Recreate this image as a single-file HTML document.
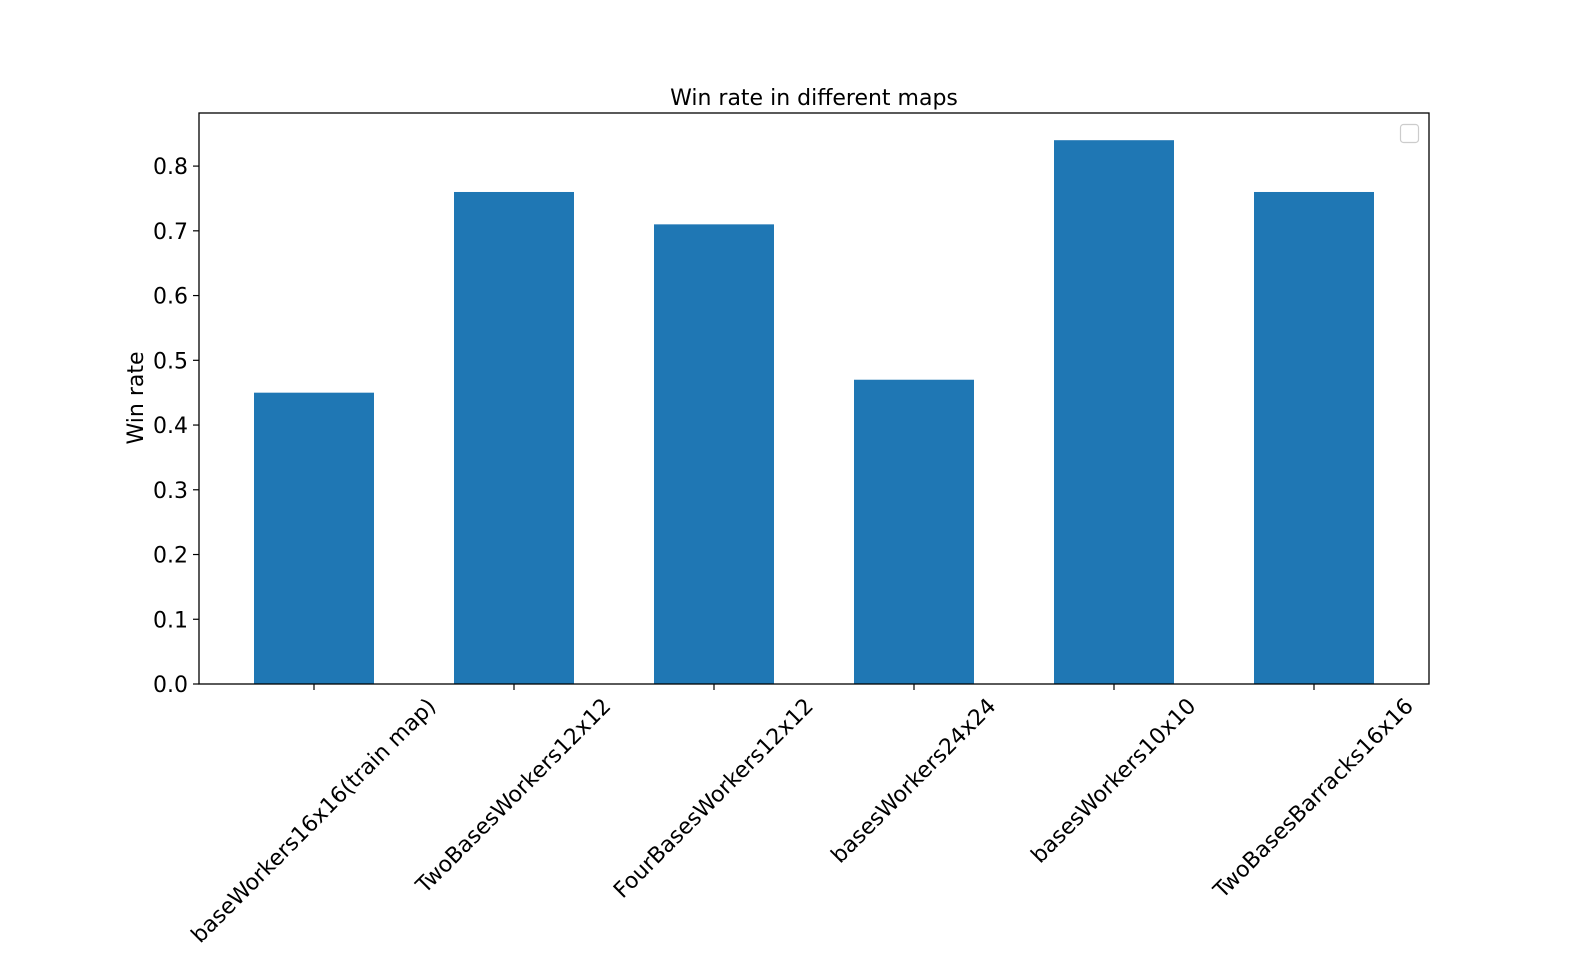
<!DOCTYPE html>
<html><head><meta charset="utf-8"><style>
html,body{margin:0;padding:0;background:#fff;}
svg text{font-family:"DejaVu Sans","Liberation Sans",sans-serif;fill:#000;}
</style></head><body>
<svg id="chart" width="1588" height="952" viewBox="0 0 1588 952" xmlns="http://www.w3.org/2000/svg">
<rect width="1588" height="952" fill="#fff"/>
<text x="814" y="105" font-size="22" text-anchor="middle">Win rate in different maps</text>
<text transform="translate(143,398) rotate(-90)" font-size="22" text-anchor="middle">Win rate</text>
<g id="bars"></g>
<g id="yticks"></g>
<g id="xticks"></g>
<rect x="199" y="113" width="1230" height="571" fill="none" stroke="#000" stroke-width="1.3"/>
<rect x="1400.5" y="124.5" width="18" height="18" rx="3" fill="#fff" stroke="#ccc" stroke-width="1.2"/>
</svg>
<script>
const categories = ["baseWorkers16x16(train map)","TwoBasesWorkers12x12","FourBasesWorkers12x12","basesWorkers24x24","basesWorkers10x10","TwoBasesBarracks16x16"];
const winRates = [0.45, 0.76, 0.71, 0.47, 0.84, 0.76];
const yTickValues = [0.0, 0.1, 0.2, 0.3, 0.4, 0.5, 0.6, 0.7, 0.8];
const yTickLabels = ["0.0","0.1","0.2","0.3","0.4","0.5","0.6","0.7","0.8"];

const NS = "http://www.w3.org/2000/svg";
const L = 199, R = 1429, T = 113, B = 684;
const xmin = -0.575, xmax = categories.length - 1 + 0.575;
const ymin = 0, ymax = 0.882;
const xs = v => L + (v - xmin) / (xmax - xmin) * (R - L);
const ys = v => B - (v - ymin) / (ymax - ymin) * (B - T);
const bw = 0.6;
function mk(tag, attrs, parent) {
  const e = document.createElementNS(NS, tag);
  for (const k in attrs) e.setAttribute(k, attrs[k]);
  parent.appendChild(e);
  return e;
}
const gb = document.getElementById('bars');
winRates.forEach((v, i) => {
  const x0 = xs(i - bw / 2), x1 = xs(i + bw / 2);
  const r = mk('rect', {x: x0, y: ys(v), width: x1 - x0, height: ys(0) - ys(v), fill: '#1f77b4'}, gb);
  
  
});
const gy = document.getElementById('yticks');
yTickValues.forEach((v, i) => {
  const y = ys(v);
  const t = mk('line', {x1: L - 6, x2: L, y1: y, y2: y, stroke: '#000', 'stroke-width': 1.2}, gy);
  
  
  const tx = mk('text', {x: L - 11, y: y + 8, 'font-size': 22, 'text-anchor': 'end'}, gy);
  tx.textContent = yTickLabels[i];
  
  
});
const gx = document.getElementById('xticks');
categories.forEach((c, i) => {
  const x = xs(i);
  const t = mk('line', {x1: x, x2: x, y1: B, y2: B + 6, stroke: '#000', 'stroke-width': 1.2}, gx);
  
  
  const tx = mk('text', {x: 0, y: 0, 'font-size': 22, 'text-anchor': 'middle', 'dominant-baseline': 'central'}, gx);
  tx.textContent = c;
  
  
  const len = tx.getComputedTextLength();
  const cy = B + 11 + (len + 22) * 0.7071 / 2;
  tx.setAttribute('transform', 'translate(' + x + ',' + cy + ') rotate(-45)');
});
</script>
</body></html>
